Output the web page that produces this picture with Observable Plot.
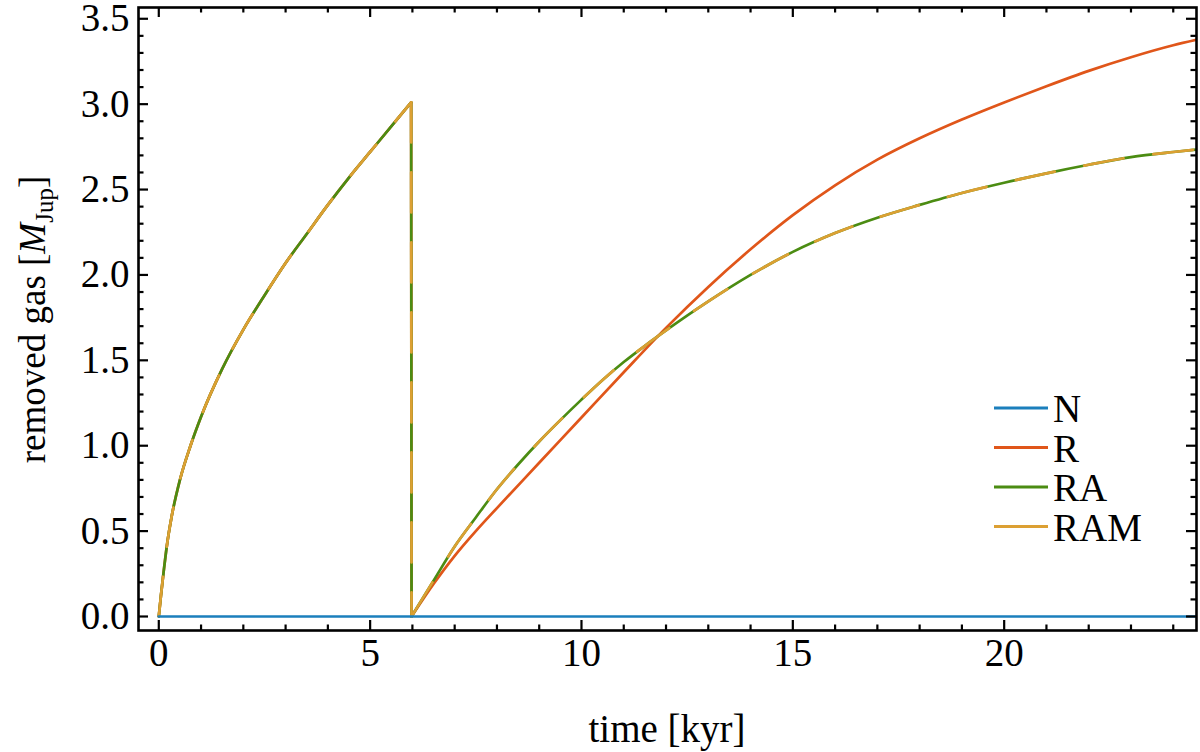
<!DOCTYPE html>
<html>
<head>
<meta charset="utf-8">
<script src="https://cdn.jsdelivr.net/npm/d3@7"></script>
<script src="https://cdn.jsdelivr.net/npm/@observablehq/plot@0.6"></script>
<style>
  html, body { margin: 0; padding: 0; background: #fff; }
  #chart { width: 1200px; height: 752px; }
</style>
</head>
<body>
<div id="chart"></div>
<script>
// ---------- data ----------
const seriesNames = ["N", "R", "RA", "RAM"];
const seriesColors = ["#1b7fbc", "#e0561a", "#4b8c12", "#dca033"];

// Shared first phase (all of R, RA, RAM), time [kyr] / removed gas [M_Jup]
const tRise1 = [0, 0.05, 0.1, 0.2, 0.3, 0.5, 0.75, 1.0, 1.5, 2.0, 2.5, 3.0, 3.5, 4.0, 4.5, 5.0, 5.5, 5.97];
const vRise1 = [0, 0.12, 0.23, 0.43, 0.58, 0.80, 1.00, 1.17, 1.45, 1.68, 1.88, 2.07, 2.24, 2.41, 2.57, 2.72, 2.87, 3.01];

// Reset at ~6 kyr
const tDrop = [5.97, 5.98];
const vDrop = [3.01, 0];

// Second phase, model R
const tR2 = [5.98, 6.5, 7, 7.5, 8, 9, 10, 11, 12, 13, 14, 15, 16, 17, 18, 19, 20, 21, 22, 23, 24, 24.57];
const vR2 = [0, 0.19, 0.355, 0.50, 0.635, 0.90, 1.165, 1.43, 1.69, 1.93, 2.15, 2.35, 2.525, 2.675, 2.80, 2.91, 3.01, 3.105, 3.195, 3.275, 3.345, 3.378];

// Second phase, models RA and RAM (identical)
const tRA2 = [5.98, 6.5, 7, 7.5, 8, 8.5, 9, 9.5, 10, 10.5, 11, 11.5, 12, 13, 14, 15, 16, 17, 18, 19, 20, 21, 22, 23, 24, 24.57];
const vRA2 = [0, 0.21, 0.41, 0.58, 0.745, 0.89, 1.025, 1.15, 1.27, 1.385, 1.49, 1.585, 1.675, 1.845, 2.0, 2.135, 2.245, 2.335, 2.41, 2.48, 2.54, 2.595, 2.645, 2.69, 2.72, 2.735];

// Model N: nothing removed
const tN = [0, 24.6];
const vN = [0, 0];

// axis ticks
const xMajor = [0, 5, 10, 15, 20];
const xMinor = d3.range(0, 25, 1).filter(d => d % 5 !== 0);
const yMajor = [0, 0.5, 1.0, 1.5, 2.0, 2.5, 3.0, 3.5];
const yMinor = d3.range(0, 36, 1).filter(d => d % 5 !== 0).map(d => d / 10);

// ---------- build table ----------
function seg(series, part, ts, vs) { return ts.map((t, i) => ({series, part, t, v: vs[i]})); }
const rows = [
  ...seg("N", "a", tN, vN),
  ...["R", "RA", "RAM"].flatMap(s => [
    ...seg(s, "a", tRise1, vRise1),
    ...seg(s, "b", tDrop, vDrop),
    ...(s === "R" ? seg(s, "c", tR2, vR2) : seg(s, "c", tRA2, vRA2))
  ])
];

// ---------- layout ----------
const W = 1200, H = 752;
const mT = 7, mR = 4, mB = 122, mL = 138;
const innerH = H - mT - mB, innerW = W - mL - mR;
const majorLen = 10, minorLen = 5.5, tickW = 2.2;

const lineOpts = (s, extra = {}) => Plot.line(rows.filter(d => d.series === s), {
  x: "t", y: "v", z: "part", stroke: "series", strokeWidth: 2.7,
  curve: "monotone-x", clip: true, ...extra
});

const chart = Plot.plot({
  width: W, height: H,
  marginTop: mT, marginRight: mR, marginBottom: mB, marginLeft: mL,
  style: {fontFamily: "'Liberation Serif', 'Times New Roman', serif", fontSize: "39px", color: "#000", background: "#fff", overflow: "visible"},
  x: {domain: [-0.48, 24.55]},
  y: {domain: [-0.082, 3.566]},
  color: {domain: seriesNames, range: seriesColors},
  marks: [
    lineOpts("R"),
    lineOpts("RA"),
    lineOpts("RAM", {strokeDasharray: "40,30"}),
    lineOpts("N"),
    // inward ticks on all four sides
    Plot.tickX(xMajor, {x: d => d, insetTop: innerH - majorLen, stroke: "#000", strokeWidth: tickW}),
    Plot.tickX(xMinor, {x: d => d, insetTop: innerH - minorLen, stroke: "#000", strokeWidth: tickW}),
    Plot.tickX(xMajor, {x: d => d, insetBottom: innerH - majorLen, stroke: "#000", strokeWidth: tickW}),
    Plot.tickX(xMinor, {x: d => d, insetBottom: innerH - minorLen, stroke: "#000", strokeWidth: tickW}),
    Plot.tickY(yMajor, {y: d => d, insetRight: innerW - majorLen, stroke: "#000", strokeWidth: tickW}),
    Plot.tickY(yMinor, {y: d => d, insetRight: innerW - minorLen, stroke: "#000", strokeWidth: tickW}),
    Plot.tickY(yMajor, {y: d => d, insetLeft: innerW - majorLen, stroke: "#000", strokeWidth: tickW}),
    Plot.tickY(yMinor, {y: d => d, insetLeft: innerW - minorLen, stroke: "#000", strokeWidth: tickW}),
    Plot.axisX({ticks: xMajor, tickSize: 0, tickPadding: 8, label: null, tickFormat: d => String(d)}),
    Plot.axisY({ticks: yMajor, tickSize: 0, tickPadding: 9, label: null, tickFormat: d3.format(".1f")}),
    Plot.frame({stroke: "#000", strokeWidth: 2.6})
  ]
});

document.getElementById("chart").appendChild(chart);

// ---------- axis labels and legend ----------
const svg = d3.select(chart);
const font = "'Liberation Serif', 'Times New Roman', serif";

svg.append("text")
  .attr("x", mL + innerW / 2).attr("y", 742)
  .attr("text-anchor", "middle")
  .style("font-family", font).style("font-size", "39px").attr("fill", "#000")
  .text("time [kyr]");

const yl = svg.append("text")
  .attr("transform", `translate(45,${mT + innerH / 2 + 1}) rotate(-90)`)
  .attr("text-anchor", "middle")
  .style("font-family", font).style("font-size", "37px").attr("fill", "#000");
yl.append("tspan").text("removed gas [");
yl.append("tspan").style("font-style", "italic").text("M");
yl.append("tspan").attr("dy", 8).style("font-size", "25px").text("Jup");
yl.append("tspan").attr("dy", -8).text("]");

const lg = svg.append("g");
seriesNames.forEach((name, i) => {
  const cy = 408 + i * 39.5;
  lg.append("line").attr("x1", 994).attr("x2", 1048).attr("y1", cy).attr("y2", cy)
    .attr("stroke", seriesColors[i]).attr("stroke-width", 2.8);
  lg.append("text").attr("x", 1053).attr("y", cy + 14)
    .attr("text-anchor", "start")
    .style("font-family", font).style("font-size", "39px").attr("fill", "#000")
    .text(name);
});
</script>
</body>
</html>
